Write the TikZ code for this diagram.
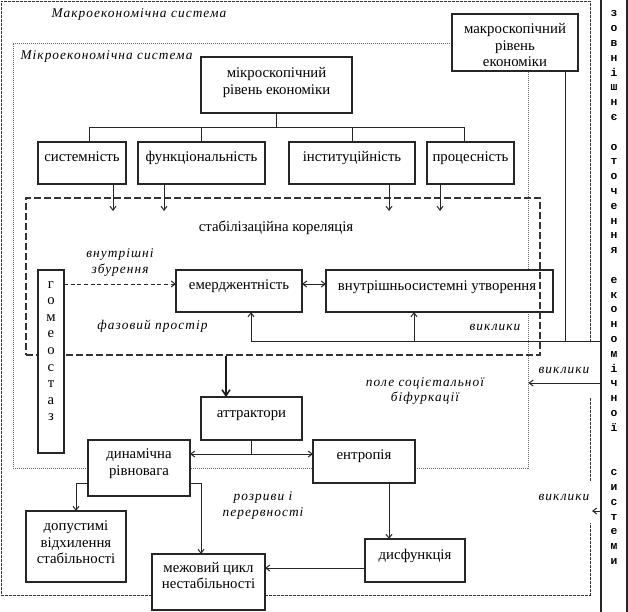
\documentclass[tikz,border=0pt]{standalone}
\usepackage{fontspec}
\setmainfont{Liberation Serif}
\newfontfamily\labfont{Liberation Serif}[LetterSpace=8]
\newfontfamily\vmono{Liberation Mono}
\usetikzlibrary{arrows.meta}
\newcommand\bx[5]{\node[box, minimum width={(#4-#2)*0.75pt}, minimum height={(#5-#3)*0.75pt}] (#1) at ({(#2+#4)/2},{(#3+#5)/2}) {};}
\tikzset{
  box/.style={draw=black!85, line width=0.9pt, fill=white, inner sep=0pt, outer sep=0pt},
  t/.style={align=center, inner sep=0pt, yshift=-1.5pt, font=\fontsize{11.1}{12.4}\selectfont},
  lab/.style={align=center, inner sep=0pt, font=\labfont\itshape\fontsize{10}{11.6}\selectfont},
  conn/.style={draw=black!85, line width=0.75pt},
  arr/.style={conn, -{Straight Barb[length=3pt,width=4.5pt]}},
  darr/.style={conn, {Straight Barb[length=3pt,width=4.5pt]}-{Straight Barb[length=3pt,width=4.5pt]}},
  dasharr/.style={arr, dash pattern=on 3pt off 2pt},
  thickarr/.style={draw=black!90, line width=1.1pt, -{Straight Barb[length=4.5pt,width=6pt]}},
  macrofr/.style={draw=black!80, line width=0.75pt, dash pattern=on 2pt off 1pt},
  microfr/.style={draw=black!60, line width=0.6pt, dash pattern=on 0.75pt off 0.75pt, inner sep=0pt},
  stabfr/.style={draw=black!80, line width=0.8pt, dash pattern=on 5.25pt off 2.25pt, inner sep=0pt},
}
\begin{document}
\begin{tikzpicture}[x=0.75pt,y=-0.75pt]
\useasboundingbox (0,0) rectangle (628,611);
\fill[white] (0,0) rectangle (628,611);
% macro frame
\draw[macrofr] (590,342) -- (590,1) -- (1,1) -- (1,595) -- (590,595) -- (590,523);
\draw[macrofr] (590,398) -- (590,482);
% micro frame
\node[microfr, minimum width={515*0.75pt}, minimum height={425*0.75pt}] (microfr) at (270.5,255.5) {};
\node[lab] (macro-lbl) at (139,14) {\strut Макроекономічна система};
\node[lab] (micro-lbl) at (106.5,56) {\strut Мікроекономічна система};
% tree
\coordinate (b1) at (89,127);
\coordinate (b4) at (464,127);
% boxes upper
\bx{macro}{452}{14}{578}{71}
\bx{micro}{201}{57}{352}{113}
\bx{sys}{38}{142}{126}{184}
\bx{func}{138}{142}{265}{184}
\bx{inst}{289}{142}{415}{184}
\bx{proc}{427}{142}{514}{184}
\bx{emer}{176}{270}{302}{312}
\bx{vnut}{326}{270}{553}{312}
\draw[conn] (micro.south) -- (micro.south |- b1);
\draw[conn] (sys.north -| b1) -- (b1) -- (b4) -- (proc.north -| b4);
\draw[conn] (func.north -| micro.south west) -- (micro.south west |- b1);
\draw[conn] (inst.north -| micro.south east) -- (micro.south east |- b1);
\node[t] (macro-t) at (515,45) {\strut макроскопічний\\\strut рівень\\\strut економіки};
\node[t] (micro-t) at (276.5,80.5) {\strut мікроскопічний\\\strut рівень економіки};
\node[t] (sys-t) at (82,156) {\strut системність};
\node[t] (func-t) at (201.5,156) {\strut функціональність};
\node[t] (inst-t) at (352,156) {\strut інституційність};
\node[t] (proc-t) at (470.5,156) {\strut процесність};
\node[t] (emer-t) at (239,284) {\strut емерджентність};
\node[t] (vnut-t) at (437,285) {\strut внутрішньосистемні утворення};
% stabilisation frame
\node[stabfr, minimum width={514*0.75pt}, minimum height={157*0.75pt}] (stab) at (283,276.5) {};
\node[t] (stab-lbl) at (276,226) {\strut стабілізаційна кореляція};
% homeostasis
\bx{homeo}{38}{270}{64}{453}
\node[t, anchor=north, font=\fontsize{11}{12.45}\selectfont] (homeo-t) at (51,279) {г\\о\\м\\е\\о\\с\\т\\а\\з};
% lower boxes
\bx{attr}{201}{397}{302}{440}
\bx{din}{88}{440}{190}{496}
\bx{entr}{313}{440}{415}{483}
\bx{dop}{26}{511}{126}{582}
\bx{mezh}{152}{554}{265}{610}
\bx{dysf}{365}{539}{465}{582}
\node[t] (attr-t) at (251.5,412) {\strut аттрактори};
\node[t] (din-t) at (139,461.5) {\strut динамічна\\\strut рівновага};
\node[t] (entr-t) at (364,454) {\strut ентропія};
\node[t] (dop-t) at (76,542) {\strut допустимі\\\strut відхилення\\\strut стабільності};
\node[t] (mezh-t) at (208.5,575) {\strut межовий цикл\\\strut нестабільності};
\node[t] (dysf-t) at (415,554) {\strut дисфункція};
% external environment
\bx{ext}{601}{-5}{627}{616}
\node[anchor=north, align=center, inner sep=0pt, font=\vmono\bfseries\fontsize{8.5}{11.1}\selectfont] (ext-t) at (614,10.5) {з\\о\\в\\н\\і\\ш\\н\\є\\~\\о\\т\\о\\ч\\е\\н\\н\\я\\~\\е\\к\\о\\н\\о\\м\\і\\ч\\н\\о\\ї\\~\\~\\с\\и\\с\\т\\е\\м\\и};
% connectors into stabilisation frame
\coordinate (s1) at (113,211);
\coordinate (s2) at (164,211);
\coordinate (s3) at (389,211);
\coordinate (s4) at (440,211);
\draw[arr] (sys.south -| s1) -- (s1);
\draw[arr] (func.south -| s2) -- (s2);
\draw[arr] (inst.south -| s3) -- (s3);
\draw[arr] (proc.south -| s4) -- (s4);
\coordinate (hy) at (0,284);
\draw[dasharr] (homeo.east |- hy) -- (emer.west |- hy);
\draw[darr] (emer.east |- hy) -- (vnut.west |- hy);
% challenges line
\coordinate (vy) at (0,341);
\coordinate (v1) at (251,341);
\coordinate (v2) at (414,341);
\coordinate (v3) at (565,341);
\draw[conn] (ext.west |- vy) -- (v1);
\draw[arr] (v1) -- (emer.south -| v1);
\draw[arr] (v2) -- (vnut.south -| v2);
\draw[conn] (macro.south -| v3) -- (v3);
% to attractors
\coordinate (a1) at (226,0);
\draw[thickarr] (stab.south -| a1) -- (attr.north -| a1);
\coordinate (dy) at (0,454);
\draw[conn] (attr.south) -- (attr.south |- dy);
\draw[darr] (din.east |- dy) -- (entr.west |- dy);
\coordinate (ly) at (0,483);
\coordinate (mx) at (201,0);
\coordinate (ex) at (389,0);
\coordinate (my) at (0,568);
\draw[arr] (din.west |- ly) -| (dop.north);
\draw[arr] (din.east |- ly) -| (mezh.north -| mx);
\draw[arr] (entr.south -| ex) -- (dysf.north -| ex);
\draw[arr] (dysf.west |- my) -- (mezh.east |- my);
\coordinate (cy1) at (0,383);
\coordinate (mfr) at (592,511);
\draw[arr] (ext.west |- cy1) -- (microfr.east |- cy1);
\draw[arr] (ext.west |- mfr) -- (mfr);
% italic labels
\node[lab] (zb) at (120,262.5) {\strut внутрішні\\\strut збурення};
\node[lab] (faz) at (152.5,326) {\strut фазовий простір};
\node[lab] (vyk1) at (495,327) {\strut виклики};
\node[lab] (vyk2) at (564,370) {\strut виклики};
\node[lab] (pole) at (425,391) {\strut поле соцієтальної\\\strut біфуркації};
\node[lab] (rozr) at (263,505.5) {\strut розриви і\\\strut перервності};
\node[lab] (vyk3) at (564,497) {\strut виклики};
\end{tikzpicture}
\end{document}
